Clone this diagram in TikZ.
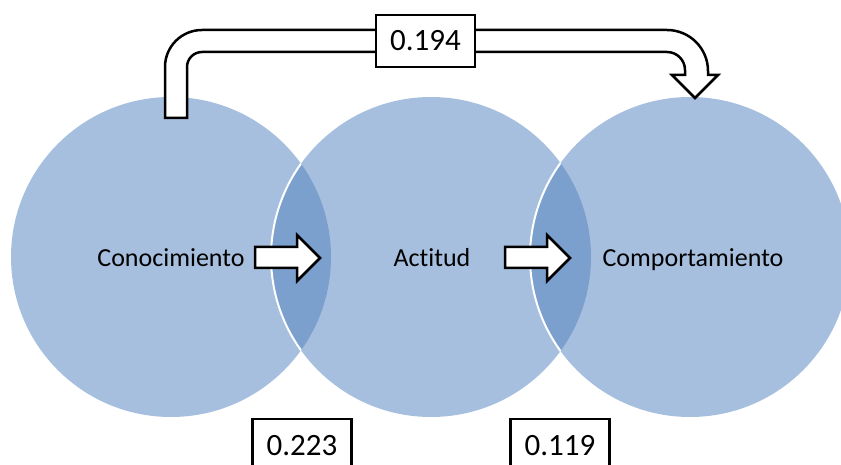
\documentclass[tikz,border=0pt]{standalone}
\usepackage{fontspec}
\setmainfont{Carlito}[Ligatures=NoCommon]
\usetikzlibrary{positioning,calc}
\definecolor{vennlight}{RGB}{167,191,222}
\definecolor{venndark}{RGB}{123,160,205}
\tikzset{
  venn/.style={fill=vennlight},
  lens/.style={fill=venndark},
  rim/.style={draw=white, line width=2pt},
  vlabel/.style={font=\fontsize{26}{30}\selectfont, inner sep=0pt, anchor=base},
  blockarrow/.style={draw=black, fill=white, line width=2.5pt, line join=miter},
  numbox/.style={draw=black, fill=white, line width=2.2pt, inner sep=0pt, font=\fontsize{31}{34}\selectfont}
}

\begin{document}
\begin{tikzpicture}[x=1pt,y=-1pt]
    \clip (0,0) rectangle (841,465);
    % Venn circles
    \coordinate (pCon) at (171,257);
    \coordinate (pAct) at (431,257);
    \coordinate (pCom) at (690,257);
    \fill[venn] (pCon) circle (160);
    \fill[venn] (pAct) circle (160);
    \fill[venn] (pCom) circle (160);
    % Overlaps
    \begin{scope}
        \clip (pCon) circle (160);
        \fill[lens] (pAct) circle (160);
        \draw[rim] (pAct) circle (160);
    \end{scope}
    \begin{scope}
        \clip (pAct) circle (160);
        \fill[lens] (pCom) circle (160);
        \draw[rim] (pCom) circle (160);
    \end{scope}
    % Labels
    \node[vlabel] (con) at (171,266) {Conocimiento};
    \node[vlabel] (act) at (432,266) {Actitud};
    \node[vlabel] (com) at (693,266) {Comportamiento};
    % Block arrows
    \draw[blockarrow] (255,247) -- (297,247) -- (297,235) -- (320,258) -- (297,281) -- (297,268) -- (255,268) -- cycle;
    \draw[blockarrow] (505,247) -- (547,247) -- (547,235) -- (570,258) -- (547,281) -- (547,268) -- (505,268) -- cycle;
    % Bent arrow over the top
    \draw[blockarrow] (165,118) -- (165,67) arc[start angle=180, end angle=270, radius=37]
        -- (667,30) arc[start angle=270, end angle=360, radius=41]
        -- (708,75) -- (718,75) -- (695,98) -- (672,75) -- (685,75)
        -- (685,70) arc[start angle=0, end angle=-90, radius=18]
        -- (202,52) arc[start angle=270, end angle=180, radius=15]
        -- (187,118) -- cycle;
    % Values
    \node[numbox, minimum width=99, minimum height=52] (vTop) at (425.5,41) {0.194};
    \node[numbox, minimum width=99, minimum height=54] (vLeft) at (302,446) {0.223};
    \node[numbox, minimum width=99, minimum height=54] (vRight) at (560,446) {0.119};
\end{tikzpicture}
\end{document}
